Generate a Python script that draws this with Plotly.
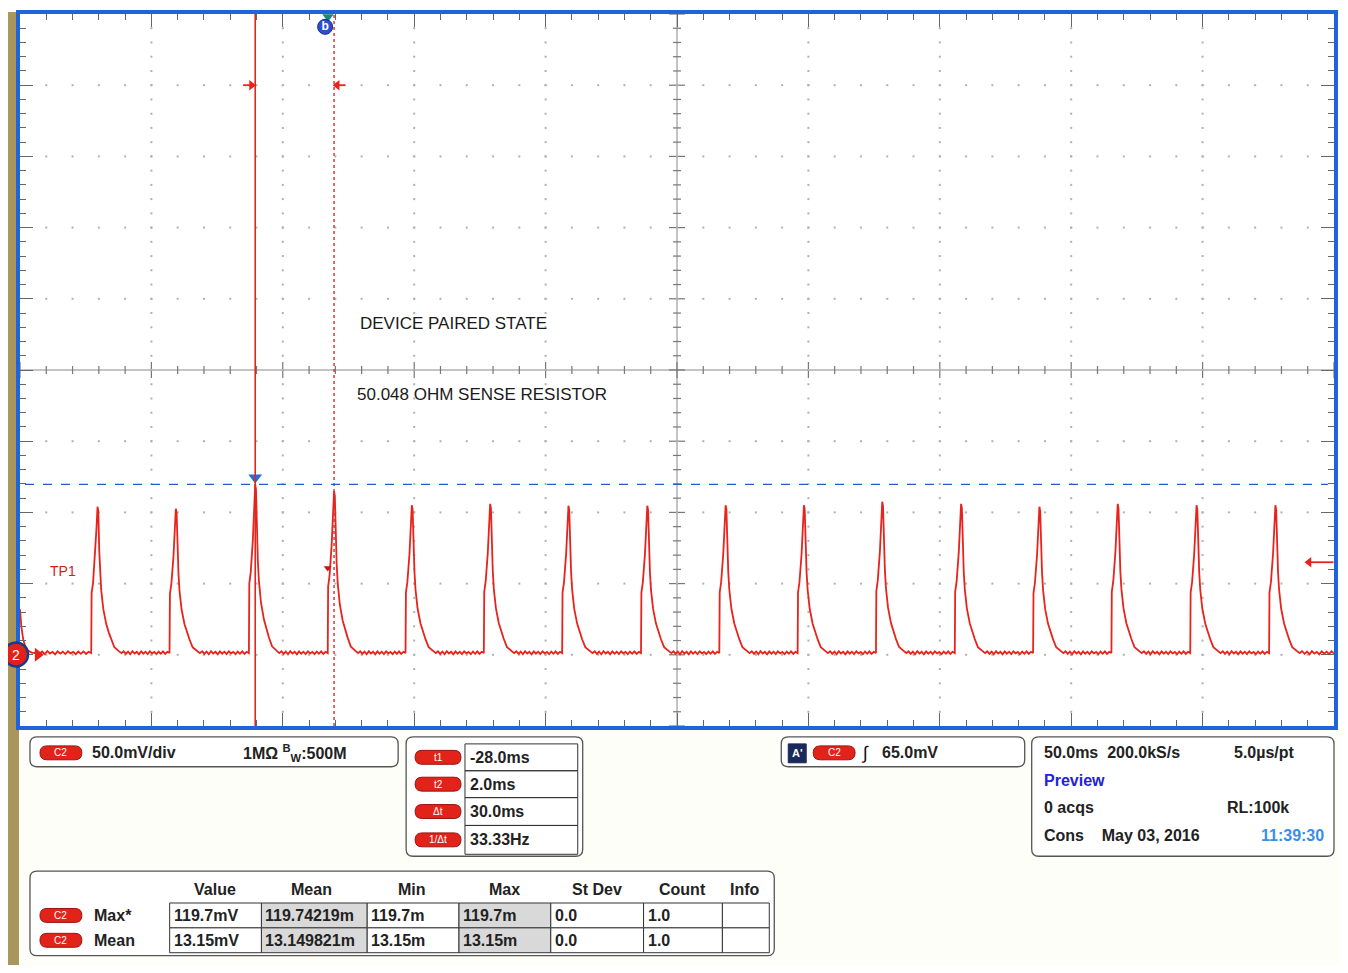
import numpy as np
import plotly.graph_objects as go

# ---- values ----
# pulse peaks (time in ms relative to trigger, height in mV)
peak_ms = [-88.0, -58.2, -28.0, 2.0, 31.6, 61.4, 91.2, 121.2, 151.0, 180.8,
           210.6, 240.6, 270.4, 300.2, 330.2, 360.2]
peak_mv = [104.0, 102.6, 119.7, 115.0, 105.0, 106.0, 104.7, 104.7, 105.0, 105.0,
           107.5, 106.0, 104.0, 106.0, 105.0, 105.0]

# shape of one current pulse around its peak (ms offset, fraction of peak)
pulse_dt_ms = [-2.4, -2.25, -1.7, -0.9, -0.4, 0.0, 0.3, 0.65, 1.0, 1.4, 2.2, 3.3, 4.3, 5.2, 6.4, 8.3]
pulse_frac = [0.0, 0.41, 0.48, 0.67, 0.85, 1.0, 0.97, 0.70, 0.55, 0.43, 0.30, 0.20, 0.14, 0.094, 0.04, 0.01]

# baseline level and the small ripple seen between pulses (mV)
baseline_mv = 1.2
ripple_mv = [0.0, 1.3, -0.5, 1.1, -0.8, 1.4, -0.3, 0.9, -0.9, 1.2, -0.4,
             1.0, -0.7, 1.3, -0.2, 0.8, -0.8, 1.1, -0.5, 1.2, -0.6, 0.9]

# tail of the pulse before the screen starts
lead_ms = [-117.5, -117.0, -116.3, -115.5, -114.5, -113.0]
lead_mv = [32.0, 20.0, 11.0, 6.0, 3.0, 1.5]

x_range = [-117.5, 382.5]     # 50 ms/div
y_range = [-50.0, 450.0]      # 50 mV/div
t1_ms, t2_ms = -28.0, 2.0
trig_mv = 65.0
max_mv = 119.7

cursor_labels = ['t1', 't2', '\u0394t', '1/\u0394t']
cursor_values = ['-28.0ms', '2.0ms', '30.0ms', '33.33Hz']

meas_headers = ['Value', 'Mean', 'Min', 'Max', 'St Dev', 'Count', 'Info']
meas_rows = ['Max*', 'Mean']
meas_values = [
    ['119.7mV', '119.74219m', '119.7m', '119.7m', '0.0', '1.0', ''],
    ['13.15mV', '13.149821m', '13.15m', '13.15m', '0.0', '1.0', ''],
]

# ---- build waveform ----
t, v = list(lead_ms), list(lead_mv)
for pk, h in zip(peak_ms, peak_mv):
    ts = np.linspace(t[-1], pk + pulse_dt_ms[0], len(ripple_mv) + 2)[1:-1]
    t += list(ts)
    v += [baseline_mv + r for r in ripple_mv]
    t += [pk + d for d in pulse_dt_ms]
    v += [baseline_mv + f * (h - baseline_mv) for f in pulse_frac]
ts = np.linspace(t[-1], x_range[1], 16)[1:]
t += list(ts)
v += [baseline_mv + r for r in ripple_mv[:len(ts)]]

# ---- page geometry (pixels, page coords; the body has an 8px margin) ----
OFF = 8
W, H = 1348 - 2 * OFF, 973 - 2 * OFF
L, R, T, B = 20, 1337, 10, 726


def px(x):
    return (x - L) / (R - L)


def py(y):
    return (B - y) / (B - T)


def rrect(x0, y0, x1, y1, r):
    return (f"M {px(x0 + r)},{py(y0)} L {px(x1 - r)},{py(y0)} "
            f"Q {px(x1)},{py(y0)} {px(x1)},{py(y0 + r)} L {px(x1)},{py(y1 - r)} "
            f"Q {px(x1)},{py(y1)} {px(x1 - r)},{py(y1)} L {px(x0 + r)},{py(y1)} "
            f"Q {px(x0)},{py(y1)} {px(x0)},{py(y1 - r)} L {px(x0)},{py(y0 + r)} "
            f"Q {px(x0)},{py(y0)} {px(x0 + r)},{py(y0)} Z")


shapes = []
annotations = []
FONT = 'Liberation Sans, Arial, sans-serif'


def rect(x0, y0, x1, y1, fill='rgba(0,0,0,0)', line='#333', lw=1):
    shapes.append(dict(type='rect', xref='paper', yref='paper',
                       x0=px(x0), x1=px(x1), y0=py(y1), y1=py(y0),
                       fillcolor=fill, line=dict(color=line, width=lw), layer='above'))


def panel(x0, y0, x1, y1):
    shapes.append(dict(type='path', xref='paper', yref='paper', path=rrect(x0, y0, x1, y1, 7),
                       fillcolor='white', line=dict(color='#555', width=1.3), layer='above'))


def txt(x, y, s, size=16, color='#222', anchor='left', bold=True):
    if not s:
        return
    annotations.append(dict(xref='paper', yref='paper', x=px(x), y=py(y),
                            text=f'<b>{s}</b>' if bold else s, showarrow=False,
                            xanchor=anchor, yanchor='middle',
                            font=dict(family=FONT, size=size, color=color)))


def badge(x0, yc, x1, label, h=14):
    shapes.append(dict(type='path', xref='paper', yref='paper',
                       path=rrect(x0, yc - h / 2, x1, yc + h / 2, h / 2),
                       fillcolor='#e2231a', line=dict(color='#9a1410', width=1), layer='above'))
    txt((x0 + x1) / 2, yc, label, size=10, color='white', anchor='center', bold=False)


# ---- frame pieces ----
# olive bar on the left
shapes.append(dict(type='rect', xref='paper', yref='paper', x0=px(OFF), x1=px(19),
                   y0=py(973), y1=py(OFF), fillcolor='#a8965a', line=dict(width=0), layer='below'))

# center cross of the graticule
xc = (x_range[0] + x_range[1]) / 2
yc = (y_range[0] + y_range[1]) / 2
shapes.append(dict(type='line', xref='x', yref='y', x0=xc, x1=xc, y0=y_range[0], y1=y_range[1],
                   line=dict(color='#888', width=1), layer='below'))
shapes.append(dict(type='line', xref='x', yref='y', x0=x_range[0], x1=x_range[1], y0=yc, y1=yc,
                   line=dict(color='#888', width=1), layer='below'))
for k, yy in enumerate(np.arange(y_range[0], y_range[1] + 1, 10)):
    n = 8 if k % 5 == 0 else 4
    shapes.append(dict(type='line', xref='x', yref='y', xsizemode='pixel', xanchor=xc,
                       x0=-n, x1=n, y0=yy, y1=yy, line=dict(color='#777', width=1.2), layer='below'))
for k, xx in enumerate(np.arange(x_range[0], x_range[1] + 1, 10)):
    n = 8 if k % 5 == 0 else 4
    shapes.append(dict(type='line', xref='x', yref='y', ysizemode='pixel', yanchor=yc,
                       y0=-n, y1=n, x0=xx, x1=xx, line=dict(color='#777', width=1.2), layer='below'))

# cursors and trigger reference
shapes.append(dict(type='line', xref='x', yref='y', x0=t1_ms, x1=t1_ms, y0=y_range[0], y1=y_range[1],
                   line=dict(color='#e0261e', width=1.6)))
shapes.append(dict(type='line', xref='x', yref='y', x0=t2_ms, x1=t2_ms, y0=y_range[0], y1=y_range[1],
                   line=dict(color='#d03030', width=1.4, dash='dot')))
shapes.append(dict(type='line', xref='x', yref='y', x0=-115.6, x1=380.2, y0=max_mv, y1=max_mv,
                   line=dict(color='#1f5fbf', width=1.2, dash='dash')))

# channel 2 ground badge sitting on the left frame edge
shapes.append(dict(type='circle', xref='paper', yref='paper', xsizemode='pixel', ysizemode='pixel',
                   xanchor=px(16), yanchor=py(654), x0=-12, x1=12, y0=-12, y1=12,
                   fillcolor='#e3211b', line=dict(color='#1a3a8a', width=2.5), layer='above'))
txt(16, 654.5, '2', size=14, color='white', anchor='center', bold=False)

# ---- data traces ----
gx, gy = [], []
for k, xx in enumerate(np.arange(x_range[0], x_range[1] + 1, 50)):
    if 0 < k < 10 and k != 5:
        for yy in np.arange(y_range[0] + 10, y_range[1], 10):
            gx.append(xx)
            gy.append(yy)
for k, yy in enumerate(np.arange(y_range[0], y_range[1] + 1, 50)):
    if 0 < k < 10 and k != 5:
        for xx in np.arange(x_range[0] + 10, x_range[1], 10):
            gx.append(xx)
            gy.append(yy)


def arrow(tail, tip, yy, symbol):
    return [
        go.Scatter(x=[tail, tip], y=[yy, yy], mode='lines', hoverinfo='skip', cliponaxis=False,
                   line=dict(color='#e8231c', width=1.8)),
        go.Scatter(x=[tip], y=[yy], mode='markers', hoverinfo='skip', cliponaxis=False,
                   marker=dict(symbol=symbol, size=9, color='#e8231c')),
    ]


data = [
    go.Scatter(x=gx, y=gy, mode='markers', hoverinfo='skip',
               marker=dict(symbol='square', size=2, color='#b0b0b0')),
    go.Scatter(x=t, y=v, mode='lines', line=dict(color='#e8231c', width=1.8),
               hovertemplate='%{x:.1f} ms<br>%{y:.1f} mV<extra></extra>'),
    # blue marker on top of t1 peak
    go.Scatter(x=[t1_ms], y=[124.5], mode='markers', hoverinfo='skip',
               marker=dict(symbol='triangle-down', size=12, color='#1f6fe0')),
    # small trigger tick
    go.Scatter(x=[-0.4], y=[61.0], mode='markers', hoverinfo='skip',
               marker=dict(symbol='triangle-down', size=7, color='#c01818')),
    # trigger point marker at top
    go.Scatter(x=[-0.3], y=[448.0], mode='markers', hoverinfo='skip', cliponaxis=False,
               marker=dict(symbol='triangle-down', size=10, color='#1a8a7a')),
    go.Scatter(x=[-1.4], y=[441.0], mode='markers+text', text=['<b>b</b>'], hoverinfo='skip',
               textposition='middle center', textfont=dict(family=FONT, size=12, color='white'),
               marker=dict(symbol='circle', size=15, color='#2a4fcf', line=dict(color='#1a2a8a', width=1))),
    # channel 2 ground arrow
    go.Scatter(x=[-110.7], y=[0], mode='markers', hoverinfo='skip', cliponaxis=False,
               marker=dict(symbol='triangle-right', size=12, color='#e8231c')),
]
# cursor arrows and trigger level arrow
data += arrow(-32.6, -29.4, 400, 'triangle-right')
data += arrow(6.4, 3.2, 400, 'triangle-left')
data += arrow(382.3, 373.0, trig_mv, 'triangle-left')

# texts on the screen
annotations.append(dict(x=-101.3, y=58.6, xref='x', yref='y', text='TP1', showarrow=False,
                        font=dict(family=FONT, size=14, color='#d02020')))
annotations.append(dict(x=11.2, y=233.0, xref='x', yref='y', text='DEVICE PAIRED STATE', showarrow=False,
                        xanchor='left', font=dict(family=FONT, size=17, color='#1a1a1a')))
annotations.append(dict(x=10.0, y=183.0, xref='x', yref='y', text='50.048 OHM SENSE RESISTOR',
                        showarrow=False, xanchor='left', font=dict(family=FONT, size=17, color='#1a1a1a')))

# ---- info panels under the screen ----
# channel box
panel(30, 737, 399, 767)
badge(40, 753, 82, 'C2')
txt(90, 753, '50.0mV/div')
txt(242, 753, '1M\u03a9 <sup>B</sup><sub>W</sub>:500M')

# cursor box
panel(407, 737, 584, 857)
row_y = [744, 771, 798, 826, 855]
rect(466, row_y[0], 579, row_y[-1], fill='white', line='#333')
for k in range(4):
    if k > 0:
        rect(466, row_y[k], 579, row_y[k], line='#333')
    ymid = (row_y[k] + row_y[k + 1]) / 2
    badge(416, ymid, 462, cursor_labels[k])
    txt(469, ymid, cursor_values[k])

# trigger box
panel(783, 737, 1027, 767)
rect(790, 744, 808, 763, fill='#1a2a5a', line='#1a2a5a')
txt(799, 753.5, "A'", size=11, color='white', anchor='center')
badge(815, 753, 857, 'C2')
txt(867, 753, '\u222b', size=18, color='#111', anchor='center', bold=False)
txt(882, 753, '65.0mV')

# timebase box
panel(1034, 737, 1337, 857)
txt(1044, 753, '50.0ms  200.0kS/s')
txt(1235, 753, '5.0\u00b5s/pt')
txt(1044, 781, 'Preview', color='#2222dd')
txt(1044, 808, '0 acqs')
txt(1228, 808, 'RL:100k')
txt(1044, 836, 'Cons    May 03, 2016')
txt(1329, 836, '11:39:30', color='#3a8ee6', anchor='right')

# measurement box
panel(30, 872, 776, 957)
col_x = [170, 262, 368, 460, 552, 645, 724, 771]
mrow_y = [904, 929, 954]
head_x = [215, 312, 413, 506, 598, 684, 747]
for hx, hname in zip(head_x, meas_headers):
    txt(hx, 890, hname, anchor='center')
for r in range(2):
    ymid = (mrow_y[r] + mrow_y[r + 1]) / 2
    badge(40, ymid, 82, 'C2')
    txt(92, ymid, meas_rows[r])
    for c in range(7):
        fill = '#d9d9d9' if c in (1, 3) else 'white'
        rect(col_x[c], mrow_y[r], col_x[c + 1], mrow_y[r + 1], fill=fill, line='#333')
        txt(col_x[c] + 2, ymid, meas_values[r][c])

axis_common = dict(showgrid=False, zeroline=False, showticklabels=False, fixedrange=True,
                   showline=True, linecolor='#1e64dc', linewidth=4, mirror='ticks',
                   ticks='inside', ticklen=13, tickwidth=1.3, tickcolor='#666')

layout = dict(
    width=W, height=H,
    margin=dict(l=L - OFF, r=(OFF + W) - R, t=T - OFF, b=(OFF + H) - B, pad=0),
    paper_bgcolor='#fefef8',
    plot_bgcolor='white',
    showlegend=False,
    font=dict(family=FONT, size=14, color='#222'),
    xaxis=dict(range=x_range, tick0=x_range[0], dtick=50,
               minor=dict(ticks='inside', ticklen=6, dtick=10, tick0=x_range[0],
                          tickcolor='#666', tickwidth=1.2, showgrid=False),
               **axis_common),
    yaxis=dict(range=y_range, tick0=y_range[0], dtick=50,
               minor=dict(ticks='inside', ticklen=6, dtick=10, tick0=y_range[0],
                          tickcolor='#666', tickwidth=1.2, showgrid=False),
               **axis_common),
    shapes=shapes,
    annotations=annotations,
)

fig = go.Figure(data=data, layout=layout)
fig.write_html("out.html")
